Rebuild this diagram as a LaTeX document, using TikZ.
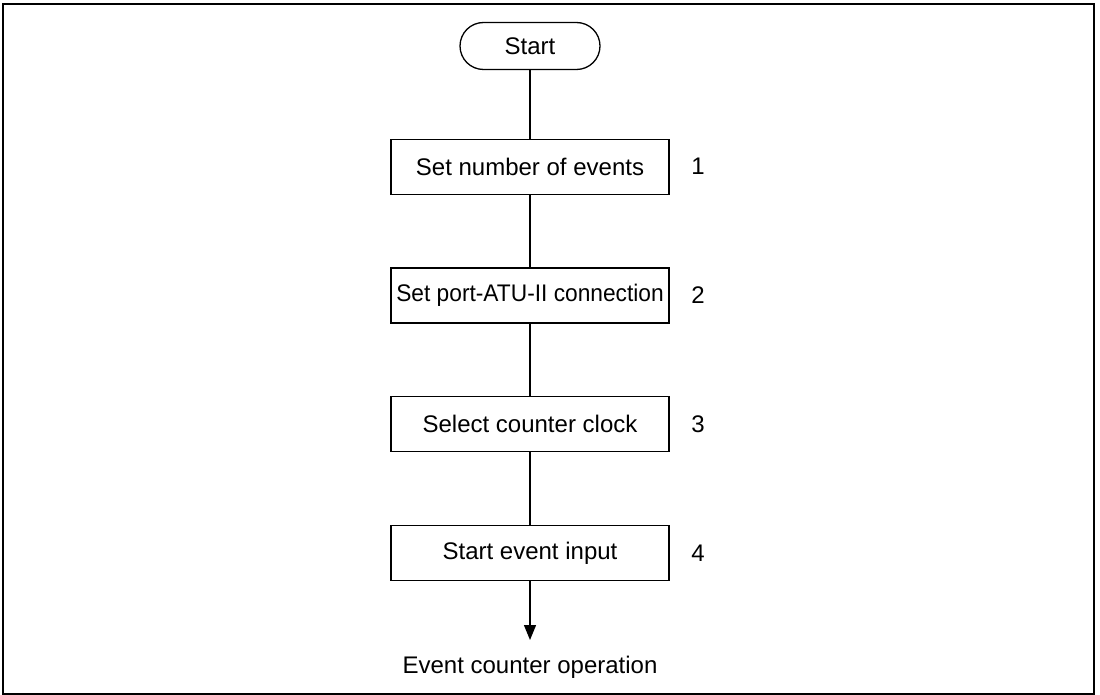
\documentclass[tikz,border=0pt]{standalone}
\usepackage{fontspec}
\setmainfont{Liberation Sans}
\usetikzlibrary{arrows.meta}
\begin{document}
\begin{tikzpicture}[x=1pt,y=-1pt,
  txt/.style={font=\fontsize{24}{28}\selectfont},
  stepbox/.style={txt, draw, line width=1.3pt, minimum width=278pt, minimum height=55pt, inner sep=0pt},
  term/.style={txt, draw, line width=1.3pt, rounded corners=23.5pt, minimum width=140pt, minimum height=47pt, inner sep=0pt},
  lbl/.style={txt, inner sep=0pt},
  conn/.style={line width=1.3pt}]
\useasboundingbox (0,0) rectangle (1100,695);
\draw[line width=2pt] (3,4) rectangle (1094,694);
\node[term] (start) at (530,46) {Start};
\node[stepbox] (b1) at (530,166.7) {Set number of events};
\node[stepbox] (b2) at (530,295.5) {\scalebox{0.947}[1]{Set port-ATU-II connection}};
\node[stepbox] (b3) at (530,424.2) {Select counter clock};
\node[stepbox] (b4) at (530,553) {Start event input};
\node[lbl] (n1) at (698,166.7) {1};
\node[lbl] (n2) at (698,295.5) {2};
\node[lbl] (n3) at (698,424.2) {3};
\node[lbl] (n4) at (698,553) {4};
\coordinate (aend) at (530,640);
\node[lbl] (out) at (530,667) {Event counter operation};
\draw[conn] (start) -- (b1);
\draw[conn] (b1) -- (b2);
\draw[conn] (b2) -- (b3);
\draw[conn] (b3) -- (b4);
\draw[conn, -{Triangle[length=15pt,width=12pt]}] (b4) -- (aend);
\end{tikzpicture}
\end{document}
